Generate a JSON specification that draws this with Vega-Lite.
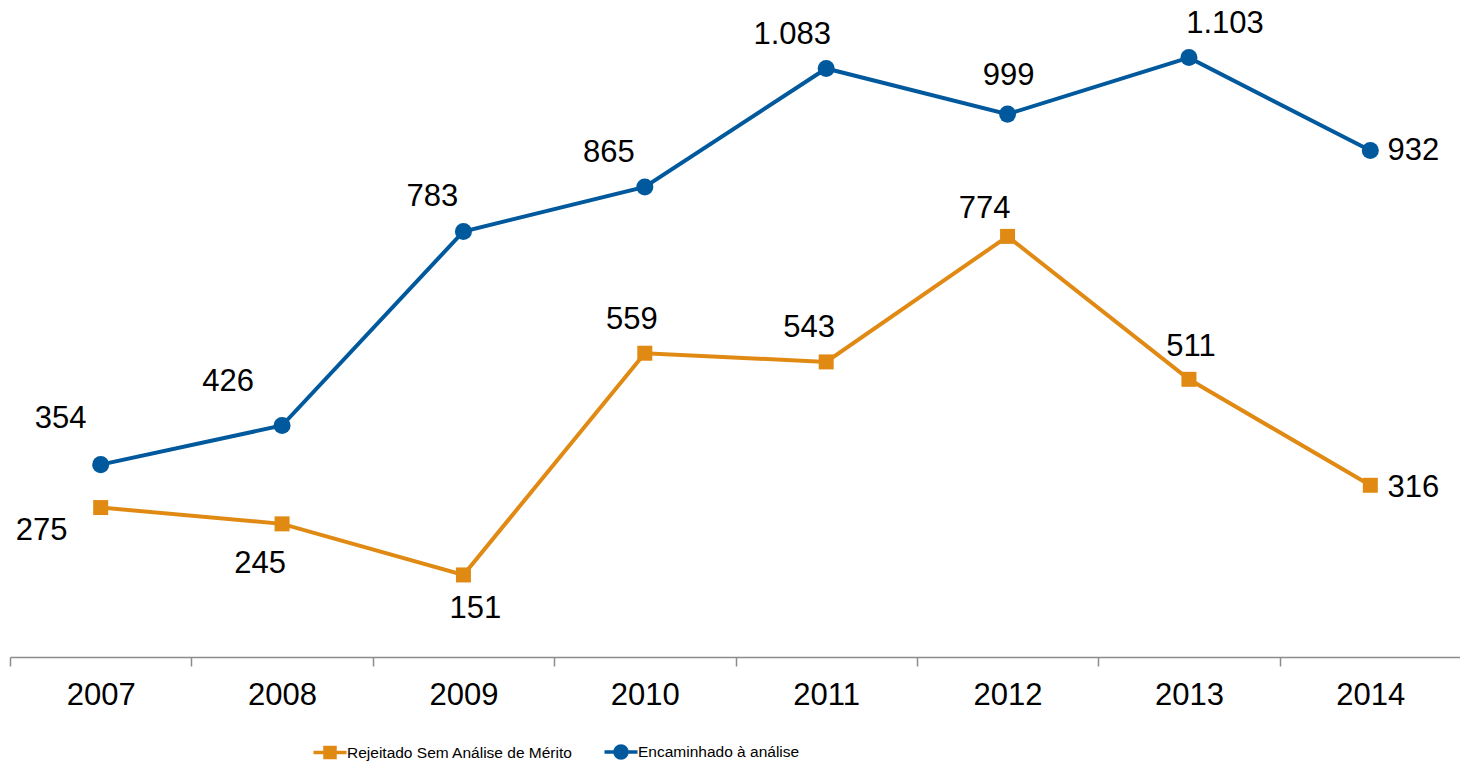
{
  "$schema": "https://vega.github.io/schema/vega-lite/v6.json",
  "width": 1451,
  "height": 657,
  "padding": {"left": 9, "top": 0, "right": 0, "bottom": 0},
  "background": "white",
  "data": {
    "values": [
      {"year": "2007", "series": "Encaminhado à análise", "value": 354},
      {"year": "2008", "series": "Encaminhado à análise", "value": 426},
      {"year": "2009", "series": "Encaminhado à análise", "value": 783},
      {"year": "2010", "series": "Encaminhado à análise", "value": 865},
      {"year": "2011", "series": "Encaminhado à análise", "value": 1083},
      {"year": "2012", "series": "Encaminhado à análise", "value": 999},
      {"year": "2013", "series": "Encaminhado à análise", "value": 1103},
      {"year": "2014", "series": "Encaminhado à análise", "value": 932},
      {"year": "2007", "series": "Rejeitado Sem Análise de Mérito", "value": 275},
      {"year": "2008", "series": "Rejeitado Sem Análise de Mérito", "value": 245},
      {"year": "2009", "series": "Rejeitado Sem Análise de Mérito", "value": 151},
      {"year": "2010", "series": "Rejeitado Sem Análise de Mérito", "value": 559},
      {"year": "2011", "series": "Rejeitado Sem Análise de Mérito", "value": 543},
      {"year": "2012", "series": "Rejeitado Sem Análise de Mérito", "value": 774},
      {"year": "2013", "series": "Rejeitado Sem Análise de Mérito", "value": 511},
      {"year": "2014", "series": "Rejeitado Sem Análise de Mérito", "value": 316}
    ]
  },
  "encoding": {
    "x": {
      "field": "year", "type": "ordinal",
      "scale": {"type": "band", "paddingInner": 0, "paddingOuter": 0},
      "axis": {
        "title": null, "labelAngle": 0, "tickBand": "extent",
        "domainColor": "#8c8c8c", "domainWidth": 1.5,
        "tickColor": "#8c8c8c", "tickWidth": 1.5, "tickSize": 9,
        "labelFontSize": 31, "labelFont": "Liberation Sans, Arial, sans-serif",
        "labelColor": "#000000", "labelPadding": 14, "grid": false
      }
    },
    "y": {
      "field": "value", "type": "quantitative",
      "scale": {"domain": [0, 1209], "nice": false, "zero": true},
      "axis": null
    }
  },
  "layer": [
    {
      "mark": {"type": "line", "strokeWidth": 4},
      "encoding": {
        "color": {
          "field": "series", "type": "nominal",
          "scale": {"domain": ["Rejeitado Sem Análise de Mérito", "Encaminhado à análise"], "range": ["#E08A14", "#00599D"]},
          "legend": {
            "title": null, "orient": "none", "direction": "horizontal",
            "legendX": 308, "legendY": 740, "padding": 0,
            "symbolSize": 400, "labelOffset": 5, "columnPadding": 24,
            "labelFontSize": 15.5, "labelFont": "Liberation Sans, Arial, sans-serif",
            "labelColor": "#000000", "labelLimit": 600,
            "encode": {
              "symbols": {
                "update": {
                  "shape": {"signal": "datum.value == 'Encaminhado à análise' ? 'M-1.65,0H1.65M-0.6,0A0.6,0.6 0 1,0 0.6,0A0.6,0.6 0 1,0 -0.6,0' : 'M-1.65,0H1.65M-0.5,-0.5H0.5V0.5H-0.5Z'"},
                  "fill": {"signal": "scale('color', datum.value)"},
                  "stroke": {"signal": "scale('color', datum.value)"},
                  "strokeWidth": {"value": 3.5},
                  "opacity": {"value": 1},
                  "fillOpacity": {"value": 1},
                  "strokeOpacity": {"value": 1}
                }
              }
            }
          }
        }
      }
    },
    {
      "transform": [{"filter": "datum.series == 'Encaminhado à análise'"}],
      "mark": {"type": "point", "shape": "circle", "filled": true, "size": 290, "opacity": 1, "color": "#00599D"}
    },
    {
      "transform": [{"filter": "datum.series == 'Rejeitado Sem Análise de Mérito'"}],
      "mark": {"type": "point", "shape": "square", "filled": true, "size": 225, "opacity": 1, "color": "#E08A14"}
    },
    {"transform": [{"filter": "datum.series == 'Encaminhado à análise' && datum.year == '2007'"}], "mark": {"type": "text", "dx": -40, "dy": -46, "fontSize": 31, "font": "Liberation Sans, Arial, sans-serif", "baseline": "middle", "align": "center", "color": "#000000"}, "encoding": {"text": {"field": "value", "type": "quantitative", "format": ",d"}}},
    {"transform": [{"filter": "datum.series == 'Encaminhado à análise' && datum.year == '2008'"}], "mark": {"type": "text", "dx": -54, "dy": -44, "fontSize": 31, "font": "Liberation Sans, Arial, sans-serif", "baseline": "middle", "align": "center", "color": "#000000"}, "encoding": {"text": {"field": "value", "type": "quantitative", "format": ",d"}}},
    {"transform": [{"filter": "datum.series == 'Encaminhado à análise' && datum.year == '2009'"}], "mark": {"type": "text", "dx": -31, "dy": -34, "fontSize": 31, "font": "Liberation Sans, Arial, sans-serif", "baseline": "middle", "align": "center", "color": "#000000"}, "encoding": {"text": {"field": "value", "type": "quantitative", "format": ",d"}}},
    {"transform": [{"filter": "datum.series == 'Encaminhado à análise' && datum.year == '2010'"}], "mark": {"type": "text", "dx": -36, "dy": -34, "fontSize": 31, "font": "Liberation Sans, Arial, sans-serif", "baseline": "middle", "align": "center", "color": "#000000"}, "encoding": {"text": {"field": "value", "type": "quantitative", "format": ",d"}}},
    {"transform": [{"filter": "datum.series == 'Encaminhado à análise' && datum.year == '2011'"}], "mark": {"type": "text", "dx": -34, "dy": -33, "fontSize": 31, "font": "Liberation Sans, Arial, sans-serif", "baseline": "middle", "align": "center", "color": "#000000"}, "encoding": {"text": {"field": "value", "type": "quantitative", "format": ",d"}}},
    {"transform": [{"filter": "datum.series == 'Encaminhado à análise' && datum.year == '2012'"}], "mark": {"type": "text", "dx": 1, "dy": -38, "fontSize": 31, "font": "Liberation Sans, Arial, sans-serif", "baseline": "middle", "align": "center", "color": "#000000"}, "encoding": {"text": {"field": "value", "type": "quantitative", "format": ",d"}}},
    {"transform": [{"filter": "datum.series == 'Encaminhado à análise' && datum.year == '2013'"}], "mark": {"type": "text", "dx": 36, "dy": -34, "fontSize": 31, "font": "Liberation Sans, Arial, sans-serif", "baseline": "middle", "align": "center", "color": "#000000"}, "encoding": {"text": {"field": "value", "type": "quantitative", "format": ",d"}}},
    {"transform": [{"filter": "datum.series == 'Encaminhado à análise' && datum.year == '2014'"}], "mark": {"type": "text", "dx": 43, "dy": 0, "fontSize": 31, "font": "Liberation Sans, Arial, sans-serif", "baseline": "middle", "align": "center", "color": "#000000"}, "encoding": {"text": {"field": "value", "type": "quantitative", "format": ",d"}}},
    {"transform": [{"filter": "datum.series == 'Rejeitado Sem Análise de Mérito' && datum.year == '2007'"}], "mark": {"type": "text", "dx": -59, "dy": 23, "fontSize": 31, "font": "Liberation Sans, Arial, sans-serif", "baseline": "middle", "align": "center", "color": "#000000"}, "encoding": {"text": {"field": "value", "type": "quantitative", "format": ",d"}}},
    {"transform": [{"filter": "datum.series == 'Rejeitado Sem Análise de Mérito' && datum.year == '2008'"}], "mark": {"type": "text", "dx": -22, "dy": 40, "fontSize": 31, "font": "Liberation Sans, Arial, sans-serif", "baseline": "middle", "align": "center", "color": "#000000"}, "encoding": {"text": {"field": "value", "type": "quantitative", "format": ",d"}}},
    {"transform": [{"filter": "datum.series == 'Rejeitado Sem Análise de Mérito' && datum.year == '2009'"}], "mark": {"type": "text", "dx": 12, "dy": 34, "fontSize": 31, "font": "Liberation Sans, Arial, sans-serif", "baseline": "middle", "align": "center", "color": "#000000"}, "encoding": {"text": {"field": "value", "type": "quantitative", "format": ",d"}}},
    {"transform": [{"filter": "datum.series == 'Rejeitado Sem Análise de Mérito' && datum.year == '2010'"}], "mark": {"type": "text", "dx": -13, "dy": -33, "fontSize": 31, "font": "Liberation Sans, Arial, sans-serif", "baseline": "middle", "align": "center", "color": "#000000"}, "encoding": {"text": {"field": "value", "type": "quantitative", "format": ",d"}}},
    {"transform": [{"filter": "datum.series == 'Rejeitado Sem Análise de Mérito' && datum.year == '2011'"}], "mark": {"type": "text", "dx": -17, "dy": -34, "fontSize": 31, "font": "Liberation Sans, Arial, sans-serif", "baseline": "middle", "align": "center", "color": "#000000"}, "encoding": {"text": {"field": "value", "type": "quantitative", "format": ",d"}}},
    {"transform": [{"filter": "datum.series == 'Rejeitado Sem Análise de Mérito' && datum.year == '2012'"}], "mark": {"type": "text", "dx": -23, "dy": -27, "fontSize": 31, "font": "Liberation Sans, Arial, sans-serif", "baseline": "middle", "align": "center", "color": "#000000"}, "encoding": {"text": {"field": "value", "type": "quantitative", "format": ",d"}}},
    {"transform": [{"filter": "datum.series == 'Rejeitado Sem Análise de Mérito' && datum.year == '2013'"}], "mark": {"type": "text", "dx": 2, "dy": -32, "fontSize": 31, "font": "Liberation Sans, Arial, sans-serif", "baseline": "middle", "align": "center", "color": "#000000"}, "encoding": {"text": {"field": "value", "type": "quantitative", "format": ",d"}}},
    {"transform": [{"filter": "datum.series == 'Rejeitado Sem Análise de Mérito' && datum.year == '2014'"}], "mark": {"type": "text", "dx": 43, "dy": 3, "fontSize": 31, "font": "Liberation Sans, Arial, sans-serif", "baseline": "middle", "align": "center", "color": "#000000"}, "encoding": {"text": {"field": "value", "type": "quantitative", "format": ",d"}}}
  ],
  "config": {
    "view": {"stroke": null},
    "locale": {"number": {"decimal": ",", "thousands": ".", "grouping": [3], "currency": ["R$", ""]}}
  }
}
